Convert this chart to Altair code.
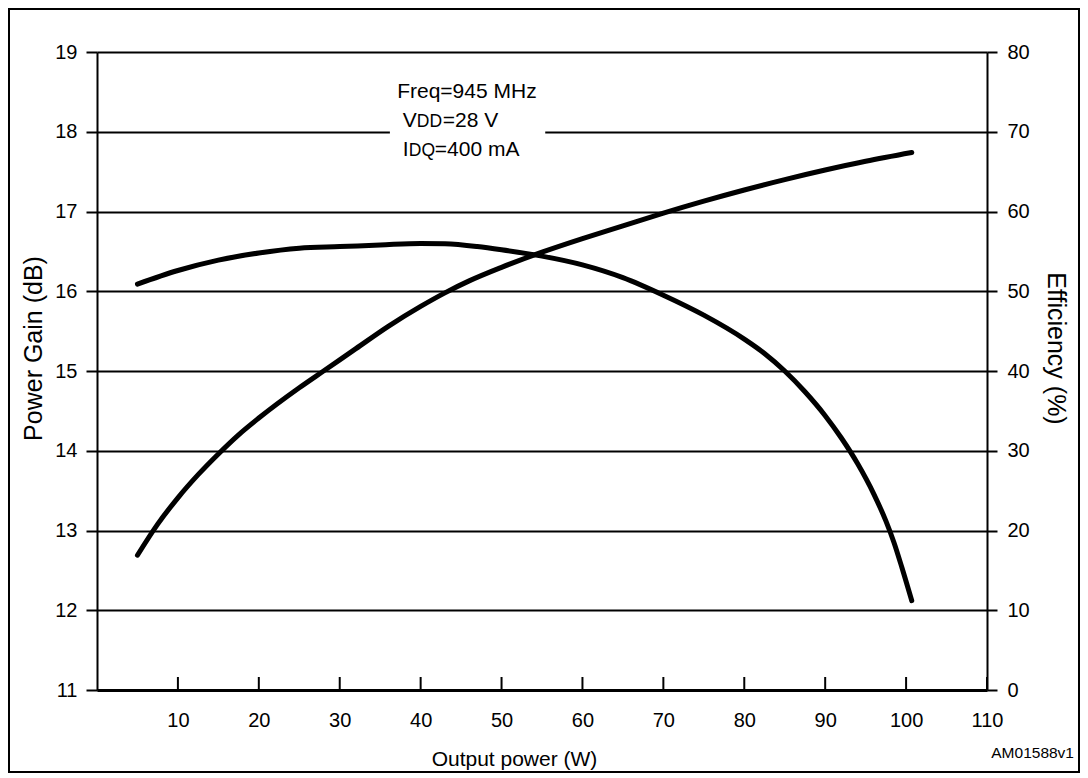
import altair as alt
import pandas as pd

# ---- data ----
gain_w = [5, 10, 15, 20, 25, 30, 35, 40, 43, 47, 50, 55, 60, 65, 70, 75, 80, 82.5, 85, 87.5, 90, 92, 94, 96,
          97.5, 98.5, 99.5, 100.7]
gain_db = [16.09, 16.26, 16.39, 16.48, 16.54, 16.56, 16.58, 16.60, 16.595, 16.56, 16.52, 16.44, 16.33, 16.17,
           15.95, 15.70, 15.40, 15.22, 15.00, 14.74, 14.44, 14.16, 13.84, 13.46, 13.12, 12.85, 12.53, 12.12]
eff_w = [5, 7.5, 10, 12.5, 15, 17.5, 20, 25, 28, 32, 36, 40, 43, 46, 50, 55, 60, 65, 70, 75, 80, 85, 90, 95, 100.7]
eff_pct = [16.9, 20.8, 24.1, 27.0, 29.6, 32.0, 34.1, 37.9, 40.0, 42.8, 45.6, 48.1, 49.8, 51.3, 53.0, 54.9,
           56.6, 58.2, 59.8, 61.3, 62.7, 64.0, 65.2, 66.3, 67.4]

x_ticks = [10, 20, 30, 40, 50, 60, 70, 80, 90, 100, 110]
gain_ticks = [11, 12, 13, 14, 15, 16, 17, 18, 19]
eff_ticks = [0, 10, 20, 30, 40, 50, 60, 70, 80]

# annotation block (data coordinates: W, dB)
note_box_w = [36.2]
note_box_w2 = [55.4]
note_box_db = [18.75]
note_box_db2 = [17.55]
note_w = [37.1, 37.8, 37.8]
note_db = [18.42, 18.06, 17.69]

FONT = "Liberation Sans"
W, H = 890, 638

gain_df = pd.DataFrame({"W": gain_w, "G": gain_db})
eff_df = pd.DataFrame({"W": eff_w, "E": eff_pct})
tick_df = pd.DataFrame({"W": x_ticks})
box_df = pd.DataFrame({"W": note_box_w, "W2": note_box_w2, "G": note_box_db, "G2": note_box_db2})
one = pd.DataFrame({"a": [0]})

x_scale = alt.Scale(domain=[0, 110], nice=False, zero=False)
g_scale = alt.Scale(domain=[11, 19], nice=False, zero=False)
e_scale = alt.Scale(domain=[0, 80], nice=False, zero=False)

x_axis = alt.Axis(values=x_ticks, format="d", ticks=False, grid=False, domainColor="black", domainWidth=3,
                  labelFontSize=20, labelPadding=20, labelFlush=False, labelOverlap=False, labelColor="black",
                  title="Output power (W)", titleFontSize=21, titleFontWeight="normal", titleColor="black",
                  titleX=417, titleY=75, titleBaseline="alphabetic", titleAlign="center")

X = alt.X("W:Q", scale=x_scale, axis=x_axis)

gain_axis = alt.Axis(orient="left", values=gain_ticks, format="d", grid=True, gridColor="black", gridWidth=2,
                     gridOpacity=1, domainColor="black", domainWidth=2, tickColor="black", tickWidth=2,
                     tickSize=11, labelFontSize=20, labelPadding=9, labelColor="black", labelOverlap=False,
                     title="Power Gain (dB)", titleFontSize=25, titleFontWeight="normal", titleColor="black",
                     titleX=-64, titleY=296, titleAngle=270, titleBaseline="middle", titleAlign="center")
eff_axis = alt.Axis(orient="right", values=eff_ticks, format="d", grid=False, domainColor="black",
                    domainWidth=2, tickColor="black", tickWidth=2, tickSize=10, labelFontSize=20,
                    labelPadding=10, labelColor="black", labelOverlap=False,
                    title="Efficiency (%)", titleFontSize=25, titleFontWeight="normal", titleColor="black",
                    titleX=68, titleY=296, titleAngle=90, titleBaseline="middle", titleAlign="center")

gain_line = alt.Chart(gain_df).mark_line(color="black", strokeWidth=5, strokeCap="round",
                                          strokeJoin="round", interpolate="monotone").encode(
    x=X, y=alt.Y("G:Q", scale=g_scale, axis=gain_axis))

eff_line = alt.Chart(eff_df).mark_line(color="black", strokeWidth=5, strokeCap="round",
                                        strokeJoin="round", interpolate="monotone").encode(
    x=X, y=alt.Y("E:Q", scale=e_scale, axis=eff_axis))

x_tick_rules = alt.Chart(tick_df).mark_rule(color="black", strokeWidth=2).encode(
    x=X, y=alt.value(H - 13), y2=alt.value(H))

box = alt.Chart(box_df).mark_rect(color="white").encode(
    x=X, x2="W2:Q", y=alt.Y("G:Q", scale=g_scale, axis=None), y2="G2:Q")

def note(text, w, g, size, dx=0):
    df = pd.DataFrame({"W": [w], "G": [g], "t": [text]})
    return alt.Chart(df).mark_text(align="left", baseline="alphabetic", font=FONT, fontSize=size,
                                   color="black", dx=dx).encode(
        x=X, y=alt.Y("G:Q", scale=g_scale, axis=None), text="t:N")

notes = [
    note("Freq=945 MHz", note_w[0], note_db[0], 21),
    note("V", note_w[1], note_db[1], 21),
    note("DD", note_w[1], note_db[1], 17.5, dx=14),
    note("=28 V", note_w[1], note_db[1], 21, dx=40),
    note("I", note_w[2], note_db[2], 21),
    note("DQ", note_w[2], note_db[2], 17.5, dx=6),
    note("=400 mA", note_w[2], note_db[2], 21, dx=32),
]

frame = alt.Chart(one).mark_rect(filled=False, stroke="black", strokeWidth=2).encode(
    x=alt.value(-88), x2=alt.value(982), y=alt.value(-43), y2=alt.value(720))

code = alt.Chart(one).mark_text(align="right", baseline="alphabetic", font=FONT, fontSize=15.5,
                                color="black").encode(
    x=alt.value(977), y=alt.value(706), text=alt.value("AM01588v1"))

chart = alt.layer(gain_line, eff_line, x_tick_rules, box, *notes, frame, code).resolve_scale(
    y="independent"
).properties(
    width=W, height=H,
    autosize=alt.AutoSizeParams(type="none"),
    padding={"left": 89, "top": 44, "right": 93, "bottom": 86},
).configure(font=FONT).configure_view(strokeWidth=0)

chart.save("out.html", embed_options={"renderer": "svg", "actions": False})
